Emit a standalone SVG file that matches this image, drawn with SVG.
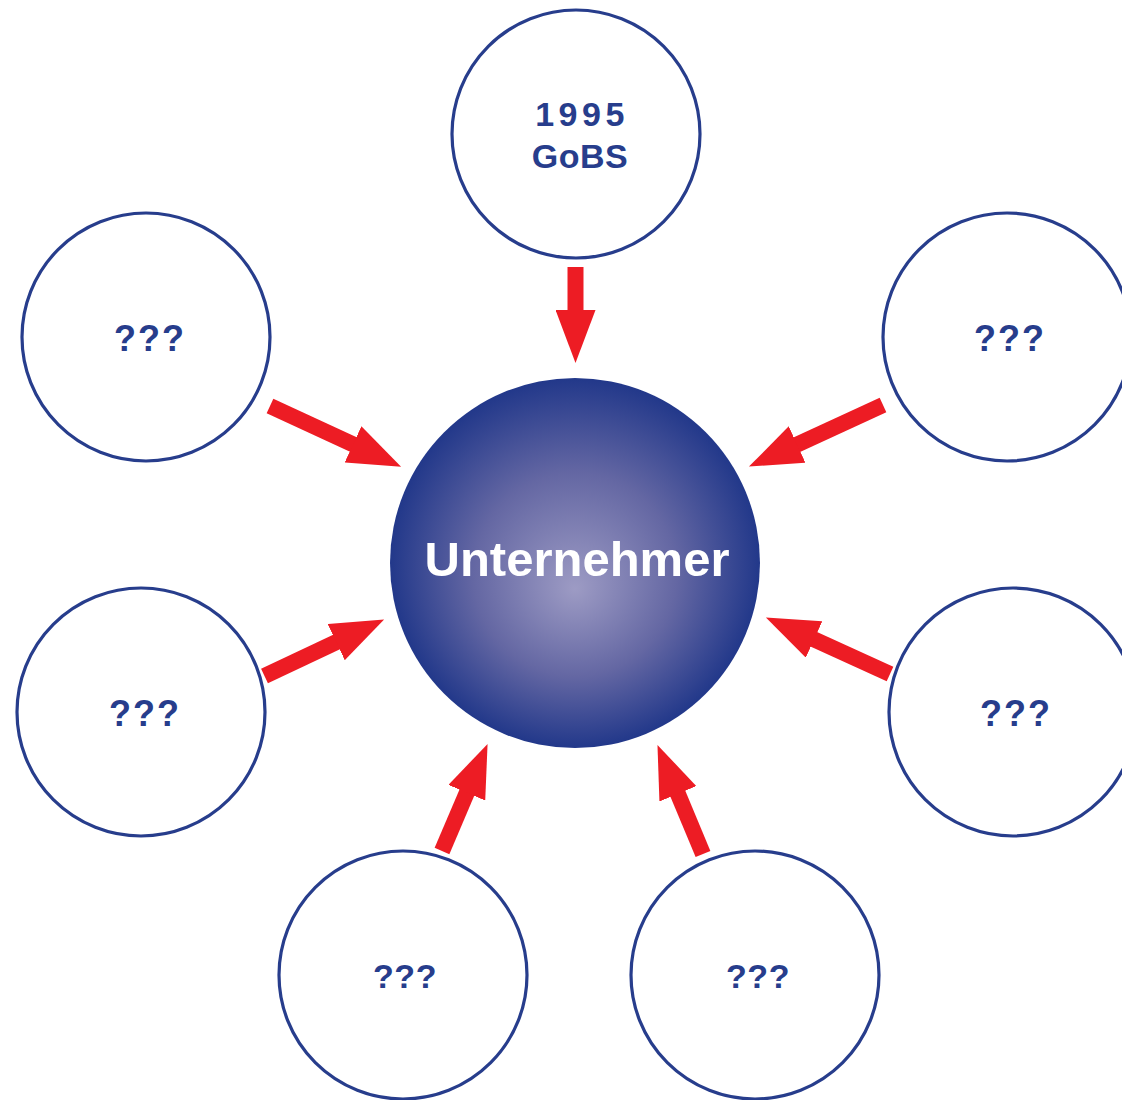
<svg xmlns="http://www.w3.org/2000/svg" width="1122" height="1100" viewBox="0 0 1122 1100">
<style>
.node circle.outer{fill:#fff;stroke:#273d8c;stroke-width:3.2}
.lbl{font-family:"Liberation Sans",Arial,sans-serif;font-weight:bold;fill:#273d8c;text-anchor:middle}
.q{font-size:36px;letter-spacing:2px}
.qb{font-size:34px;letter-spacing:0.5px}
.conn line{stroke:#ed1c24;stroke-width:16;marker-end:url(#head)}
</style>
<defs>
<marker id="head" markerUnits="userSpaceOnUse" viewBox="0 -20 53 40" refX="1" refY="0" markerWidth="53" markerHeight="40" orient="auto">
<path d="M0,-20 L53,0 L0,20 Z" fill="#ed1c24"/>
</marker>
<radialGradient id="core" cx="0.5" cy="0.5" r="0.5" fx="0.5" fy="0.57">
<stop offset="0" stop-color="#9d9bc4"/>
<stop offset="0.55" stop-color="#6467a3"/>
<stop offset="1" stop-color="#22388a"/>
</radialGradient>
</defs>
<rect width="1122" height="1100" fill="#fff"/>
<g id="n-gobs" class="node">
<circle class="outer" cx="576" cy="134" r="124"/>
<text class="lbl" x="582" y="126" font-size="34" letter-spacing="4.5">1995</text>
<text class="lbl" x="580" y="168" font-size="34" letter-spacing="0.5">GoBS</text>
</g>
<g id="n-lt" class="node">
<circle class="outer" cx="146" cy="337" r="124"/>
<text class="lbl q" x="150" y="351">???</text>
</g>
<g id="n-rt" class="node">
<circle class="outer" cx="1007" cy="337" r="124"/>
<text class="lbl q" x="1010" y="351">???</text>
</g>
<g id="n-lb" class="node">
<circle class="outer" cx="141" cy="712" r="124"/>
<text class="lbl q" x="145" y="726">???</text>
</g>
<g id="n-rb" class="node">
<circle class="outer" cx="1013" cy="712" r="124"/>
<text class="lbl q" x="1016" y="726">???</text>
</g>
<g id="n-bl" class="node">
<circle class="outer" cx="403" cy="975" r="124"/>
<text class="lbl qb" x="405" y="988">???</text>
</g>
<g id="n-br" class="node">
<circle class="outer" cx="755" cy="975" r="124"/>
<text class="lbl qb" x="758" y="988">???</text>
</g>
<g id="n-center" class="node">
<circle cx="575" cy="563" r="185" fill="url(#core)"/>
<text x="577" y="576" font-family="'Liberation Sans',Arial,sans-serif" font-weight="bold" font-size="49" fill="#fff" text-anchor="middle">Unternehmer</text>
</g>
<g id="connectors" class="conn">
<line x1="575.5" y1="267" x2="575.5" y2="311"/>
<line x1="270" y1="406" x2="353.9" y2="444.8"/>
<line x1="883" y1="405" x2="796.2" y2="444.9"/>
<line x1="264.5" y1="676" x2="337.1" y2="641.7"/>
<line x1="890" y1="674" x2="813.2" y2="639"/>
<line x1="442" y1="851" x2="467.2" y2="791.8"/>
<line x1="703" y1="854" x2="677.5" y2="792.9"/>
</g>
</svg>
